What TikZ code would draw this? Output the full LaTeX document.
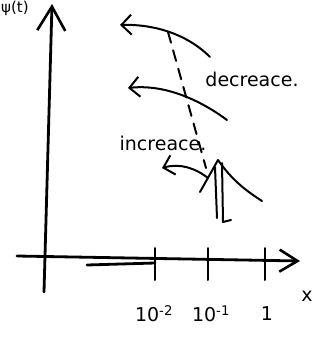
\documentclass[tikz,border=0pt]{standalone}
\usepackage{fontspec}
\newfontfamily\handfont{DejaVu Sans}
\usetikzlibrary{arrows.meta}
\begin{document}
\begin{tikzpicture}[x=1pt,y=-1pt,line cap=round,line join=round,
  axisline/.style={line width=2.8pt},
  stroke/.style={line width=2pt},
  barb/.style={-{Straight Barb[length=10pt,width=20pt,line width=2pt]}},
  hand/.style={font=\fontsize{19}{21}\selectfont\handfont}]
\useasboundingbox (0,0) rectangle (320,338);
% axes
\coordinate (yb) at (44,292);
\coordinate (yt) at (52,4);
\coordinate (xl) at (17,256);
\coordinate (xr) at (300,261);
\draw[axisline,-{Straight Barb[length=24pt,width=28pt,line width=2.6pt]}] (yb) -- (yt);
\draw[axisline,-{Straight Barb[length=18pt,width=22pt,line width=2.6pt]}] (xl) -- (xr);
\draw[axisline] (87,265) -- (155,263);
\node[hand,font=\fontsize{15}{17}\selectfont\handfont,anchor=north west,inner sep=1pt] (ylab) at (0,0) {ψ(t)};
% ticks on x
\foreach \x/\lx/\lab/\name in {155/154/{10\textsuperscript{-2}}/a,208/211/{10\textsuperscript{-1}}/b,265/267/{1}/c}{
  \draw[stroke] (\x,248) -- (\x,280);
  \node[hand] (t\name) at (\lx,314) {\lab};}
\node[hand] (xlab) at (307,296) {x};
% arrows
\draw[stroke,barb] (210,57) .. controls (185,32) and (150,24) .. (120,25);
\draw[stroke,barb] (227,120) .. controls (200,100) and (165,84) .. (128,88);
\draw[stroke,barb] (208,178) .. controls (195,168) and (180,163) .. (162,168);
\draw[stroke,dash pattern=on 11pt off 8pt] (168,32) -- (206,168);
% peak
\draw[stroke] (200,192) -- (218,160) .. controls (232,180) and (245,190) .. (262,201);
\draw[stroke] (215,167) -- (217,218);
\draw[stroke] (222,163) -- (223,222) -- (231,220);
\node[hand] (dec) at (252,79) {decreace.};
\node[hand] (inc) at (163,143) {increace.};
\end{tikzpicture}
\end{document}
